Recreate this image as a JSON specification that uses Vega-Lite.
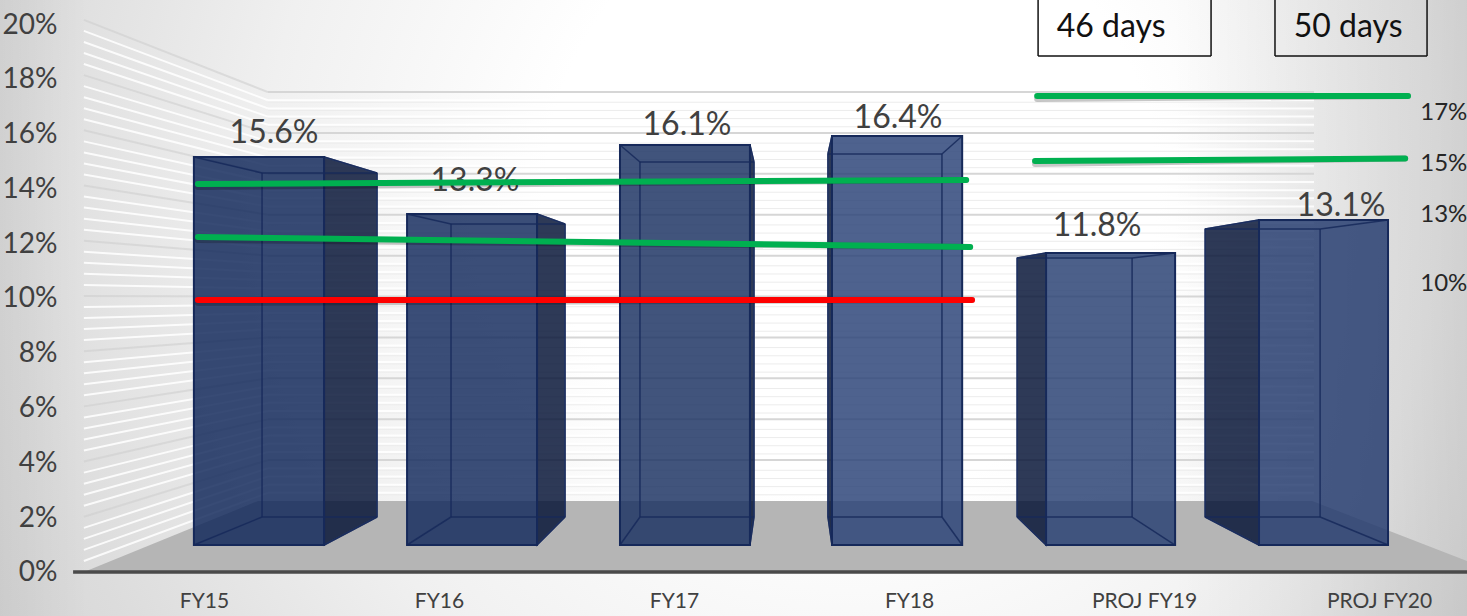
{"$schema":"https://vega.github.io/schema/vega-lite/v6.json","width":1467,"height":616,"padding":0,"autosize":{"type":"none","contains":"padding"},"background":"#ffffff","config":{"view":{"stroke":null},"font":"Lato"},
"datasets":{
"bars":[
{"cat":"FY15","xFL":-0.043,"xFR":0.511,"xBL":0.247,"xBR":0.736,"yFT":15.146,"yBT":14.562,"yFB":0.985,"yBB":2.007},
{"cat":"FY16","xFL":0.864,"xFR":1.417,"xBL":1.051,"xBR":1.536,"yFT":13.066,"yBT":12.701,"yFB":0.985,"yBB":2.007},
{"cat":"FY17","xFL":1.77,"xFR":2.323,"xBL":1.855,"xBR":2.34,"yFT":15.584,"yBT":14.964,"yFB":0.985,"yBB":2.007},
{"cat":"FY18","xFL":2.672,"xFR":3.226,"xBL":2.655,"xBR":3.14,"yFT":15.912,"yBT":15.255,"yFB":0.985,"yBB":2.007},
{"cat":"PROJ FY19","xFL":3.583,"xFR":4.132,"xBL":3.46,"xBR":3.949,"yFT":11.642,"yBT":11.46,"yFB":0.985,"yBB":2.007},
{"cat":"PROJ FY20","xFL":4.489,"xFR":5.038,"xBL":4.26,"xBR":4.749,"yFT":12.847,"yBT":12.518,"yFB":0.985,"yBB":2.007}],
"sides":[
{"cat":"FY15","x":0.511,"top":15.146,"bottom":0.985},{"cat":"FY15","x":0.736,"top":14.562,"bottom":2.007},
{"cat":"FY16","x":1.417,"top":13.066,"bottom":0.985},{"cat":"FY16","x":1.536,"top":12.701,"bottom":2.007},
{"cat":"FY17","x":2.323,"top":15.584,"bottom":0.985},{"cat":"FY17","x":2.34,"top":14.964,"bottom":2.007},
{"cat":"FY18","x":2.655,"top":15.255,"bottom":2.007},{"cat":"FY18","x":2.672,"top":15.912,"bottom":0.985},
{"cat":"PROJ FY19","x":3.46,"top":11.46,"bottom":2.007},{"cat":"PROJ FY19","x":3.583,"top":11.642,"bottom":0.985},
{"cat":"PROJ FY20","x":4.26,"top":12.518,"bottom":2.007},{"cat":"PROJ FY20","x":4.489,"top":12.847,"bottom":0.985}],
"grid":[
{"k":1,"kind":"minor","yL":0.403,"yB":2.89},{"k":2,"kind":"minor","yL":0.806,"yB":3.188},{"k":3,"kind":"minor","yL":1.209,"yB":3.487},{"k":4,"kind":"minor","yL":1.612,"yB":3.785},{"k":5,"kind":"major","yL":2.015,"yB":4.084},
{"k":6,"kind":"minor","yL":2.418,"yB":4.382},{"k":7,"kind":"minor","yL":2.821,"yB":4.681},{"k":8,"kind":"minor","yL":3.224,"yB":4.979},{"k":9,"kind":"minor","yL":3.627,"yB":5.278},{"k":10,"kind":"major","yL":4.03,"yB":5.576},
{"k":11,"kind":"minor","yL":4.433,"yB":5.875},{"k":12,"kind":"minor","yL":4.836,"yB":6.173},{"k":13,"kind":"minor","yL":5.239,"yB":6.472},{"k":14,"kind":"minor","yL":5.642,"yB":6.77},{"k":15,"kind":"major","yL":6.045,"yB":7.069},
{"k":16,"kind":"minor","yL":6.448,"yB":7.367},{"k":17,"kind":"minor","yL":6.851,"yB":7.666},{"k":18,"kind":"minor","yL":7.254,"yB":7.964},{"k":19,"kind":"minor","yL":7.657,"yB":8.263},{"k":20,"kind":"major","yL":8.06,"yB":8.561},
{"k":21,"kind":"minor","yL":8.463,"yB":8.86},{"k":22,"kind":"minor","yL":8.866,"yB":9.158},{"k":23,"kind":"minor","yL":9.269,"yB":9.457},{"k":24,"kind":"minor","yL":9.672,"yB":9.755},{"k":25,"kind":"major","yL":10.075,"yB":10.054},
{"k":26,"kind":"minor","yL":10.478,"yB":10.352},{"k":27,"kind":"minor","yL":10.881,"yB":10.651},{"k":28,"kind":"minor","yL":11.284,"yB":10.949},{"k":29,"kind":"minor","yL":11.687,"yB":11.248},{"k":30,"kind":"major","yL":12.09,"yB":11.546},
{"k":31,"kind":"minor","yL":12.493,"yB":11.845},{"k":32,"kind":"minor","yL":12.896,"yB":12.143},{"k":33,"kind":"minor","yL":13.299,"yB":12.442},{"k":34,"kind":"minor","yL":13.702,"yB":12.74},{"k":35,"kind":"major","yL":14.105,"yB":13.039},
{"k":36,"kind":"minor","yL":14.508,"yB":13.337},{"k":37,"kind":"minor","yL":14.911,"yB":13.636},{"k":38,"kind":"minor","yL":15.314,"yB":13.934},{"k":39,"kind":"minor","yL":15.717,"yB":14.233},{"k":40,"kind":"major","yL":16.12,"yB":14.531},
{"k":41,"kind":"minor","yL":16.523,"yB":14.83},{"k":42,"kind":"minor","yL":16.926,"yB":15.128},{"k":43,"kind":"minor","yL":17.329,"yB":15.427},{"k":44,"kind":"minor","yL":17.732,"yB":15.725},{"k":45,"kind":"major","yL":18.135,"yB":16.024},
{"k":46,"kind":"minor","yL":18.538,"yB":16.322},{"k":47,"kind":"minor","yL":18.941,"yB":16.621},{"k":48,"kind":"minor","yL":19.344,"yB":16.919},{"k":49,"kind":"minor","yL":19.747,"yB":17.218},{"k":50,"kind":"major","yL":20.15,"yB":17.516}],
"trend":[
{"series":"green upper FY15-18","tone":"green","x":-0.026,"x2":3.243,"y":14.161,"y2":14.307},
{"series":"green lower FY15-18","tone":"green","x":-0.026,"x2":3.26,"y":12.226,"y2":11.861},
{"series":"red FY15-18","tone":"red","x":-0.026,"x2":3.268,"y":9.927,"y2":9.927},
{"series":"17%","tone":"green","x":3.545,"x2":5.123,"y":17.372,"y2":17.372},
{"series":"15%","tone":"green","x":3.536,"x2":5.111,"y":15.0,"y2":15.091}],
"boxes":[{"t":"46 days","x0":3.549,"x1":4.285,"yt":20.876,"yb":18.832},{"t":"50 days","x0":4.557,"x1":5.204,"yt":20.876,"yb":18.832}]
},
"layer":[
{"data":{"values":[{"x0":-0.868,"x1":5.374,"y0":-1.606,"y1":20.876}]},"mark":{"type":"rect","color":{"gradient":"radial","x1":0.58,"y1":0.42,"r1":0,"x2":0.58,"y2":0.42,"r2":0.8,"stops":[{"offset":0,"color":"#ffffff"},{"offset":0.26,"color":"#ffffff"},{"offset":0.5,"color":"#f0f0f0"},{"offset":0.72,"color":"#dcdcdc"},{"offset":1,"color":"#cacaca"}]}},
"encoding":{"x":{"field":"x0","type":"quantitative","scale":{"nice":false,"zero":false},"axis":{"title":null,"orient":"bottom","offset":-15,"values":[0,1,2,3,4,5],"labelExpr":"['FY15','FY16','FY17','FY18','PROJ FY19','PROJ FY20'][datum.value]","domain":false,"ticks":false,"grid":false,"labelPadding":0,"labelBaseline":"middle","labelFontSize":21,"labelColor":"#404040","labelOverlap":false,"labelBound":false,"labelFlush":false,"zindex":1}},"x2":{"field":"x1"},
"y":{"field":"y0","type":"quantitative","scale":{"nice":false,"zero":false},"axis":{"title":null,"orient":"left","offset":-57,"values":[0,2,4,6,8,10,12,14,16,18,20],"labelExpr":"datum.value+'%'","domain":false,"ticks":false,"grid":false,"labelPadding":0,"labelOffset":1,"labelFontSize":28,"labelColor":"#404040","labelOverlap":false,"labelBound":false,"labelFlush":false,"zindex":1}},"y2":{"field":"y1"}}},
{"data":{"values":[{"x0":-0.868,"x1":5.374,"y0":-1.606,"y1":20.876}]},"mark":{"type":"rect","color":{"gradient":"linear","x1":0,"y1":0,"x2":1,"y2":0,"stops":[{"offset":0,"color":"rgba(0,0,0,0.05)"},{"offset":0.06,"color":"rgba(0,0,0,0)"},{"offset":0.8,"color":"rgba(0,0,0,0)"},{"offset":1,"color":"rgba(0,0,0,0.12)"}]}},"encoding":{"x":{"field":"x0","type":"quantitative"},"x2":{"field":"x1"},"y":{"field":"y0","type":"quantitative"},"y2":{"field":"y1"}}},
{"data":{"name":"grid"},"transform":[{"filter":"datum.kind==='minor'"}],"mark":{"type":"rule","color":"#ffffff","strokeWidth":2,"opacity":0.85},"encoding":{"x":{"datum":-0.511},"x2":{"datum":0.272},"y":{"field":"yL","type":"quantitative"},"y2":{"field":"yB"}}},
{"data":{"name":"grid"},"transform":[{"filter":"datum.kind==='minor'"}],"mark":{"type":"rule","color":"#ffffff","strokeWidth":2,"opacity":0.85},"encoding":{"x":{"datum":0.272},"x2":{"datum":4.723},"y":{"field":"yB","type":"quantitative"}}},
{"data":{"name":"grid"},"transform":[{"filter":"datum.kind==='minor'"}],"mark":{"type":"rule","color":"#ececec","strokeWidth":1,"yOffset":2},"encoding":{"x":{"datum":0.272},"x2":{"datum":4.723},"y":{"field":"yB","type":"quantitative"}}},
{"data":{"name":"grid"},"transform":[{"filter":"datum.kind==='major'"}],"mark":{"type":"rule","color":"#cfcfcf","strokeWidth":2,"opacity":0.6},"encoding":{"x":{"datum":-0.511},"x2":{"datum":0.272},"y":{"field":"yL","type":"quantitative"},"y2":{"field":"yB"}}},
{"data":{"name":"grid"},"transform":[{"filter":"datum.kind==='major'"}],"mark":{"type":"rule","color":"#d6d6d6","strokeWidth":2},"encoding":{"x":{"datum":0.272},"x2":{"datum":4.723},"y":{"field":"yB","type":"quantitative"}}},
{"data":{"values":[{"x":-0.511,"top":0,"bottom":0},{"x":0.23,"top":2.591,"bottom":0},{"x":4.715,"top":2.591,"bottom":0},{"x":5.374,"top":0.401,"bottom":0}]},"mark":{"type":"area","color":"#b5b5b5","opacity":1},"encoding":{"x":{"field":"x","type":"quantitative"},"y":{"field":"top","type":"quantitative"},"y2":{"field":"bottom"}}},
{"data":{"values":[{"x":-0.557,"x2":5.374,"y":0}]},"mark":{"type":"rule","color":"#4a4a4a","strokeWidth":3.5},"encoding":{"x":{"field":"x","type":"quantitative"},"x2":{"field":"x2"},"y":{"field":"y","type":"quantitative"}}},
{"data":{"name":"sides"},"mark":{"type":"area","color":"#051336","opacity":0.83,"stroke":"#16295a","strokeWidth":1.5},"encoding":{"x":{"field":"x","type":"quantitative"},"y":{"field":"top","type":"quantitative"},"y2":{"field":"bottom"},"detail":{"field":"cat"}}},
{"data":{"name":"bars"},"mark":{"type":"rect","fillOpacity":0.83,"stroke":"#16295a","strokeWidth":2},"encoding":{"x":{"field":"xFL","type":"quantitative"},"x2":{"field":"xFR"},"y":{"field":"yFT","type":"quantitative"},"y2":{"field":"yFB"},"fill":{"field":"cat","type":"nominal","legend":null,"scale":{"domain":["FY15","FY16","FY17","FY18","PROJ FY19","PROJ FY20"],"range":["#102759","#132a5d","#1a3162","#2a4277","#284072","#233a6e"]}}}},
{"data":{"name":"bars"},"mark":{"type":"rule","color":"#16295a","strokeWidth":1.5,"opacity":0.85},"encoding":{"x":{"field":"xBL","type":"quantitative"},"y":{"field":"yBT","type":"quantitative"},"y2":{"field":"yBB"}}},
{"data":{"name":"bars"},"mark":{"type":"rule","color":"#16295a","strokeWidth":1.5,"opacity":0.85},"encoding":{"x":{"field":"xBR","type":"quantitative"},"y":{"field":"yBT","type":"quantitative"},"y2":{"field":"yBB"}}},
{"data":{"name":"bars"},"mark":{"type":"rule","color":"#16295a","strokeWidth":1.5,"opacity":0.85},"encoding":{"x":{"field":"xBL","type":"quantitative"},"x2":{"field":"xBR"},"y":{"field":"yBT","type":"quantitative"}}},
{"data":{"name":"bars"},"mark":{"type":"rule","color":"#16295a","strokeWidth":1.5,"opacity":0.85},"encoding":{"x":{"field":"xBL","type":"quantitative"},"x2":{"field":"xBR"},"y":{"field":"yBB","type":"quantitative"}}},
{"data":{"name":"bars"},"mark":{"type":"rule","color":"#16295a","strokeWidth":1.5,"opacity":0.85},"encoding":{"x":{"field":"xFL","type":"quantitative"},"x2":{"field":"xBL"},"y":{"field":"yFT","type":"quantitative"},"y2":{"field":"yBT"}}},
{"data":{"name":"bars"},"mark":{"type":"rule","color":"#16295a","strokeWidth":1.5,"opacity":0.85},"encoding":{"x":{"field":"xFR","type":"quantitative"},"x2":{"field":"xBR"},"y":{"field":"yFT","type":"quantitative"},"y2":{"field":"yBT"}}},
{"data":{"name":"bars"},"mark":{"type":"rule","color":"#16295a","strokeWidth":1.5,"opacity":0.85},"encoding":{"x":{"field":"xFL","type":"quantitative"},"x2":{"field":"xBL"},"y":{"field":"yFB","type":"quantitative"},"y2":{"field":"yBB"}}},
{"data":{"name":"bars"},"mark":{"type":"rule","color":"#16295a","strokeWidth":1.5,"opacity":0.85},"encoding":{"x":{"field":"xFR","type":"quantitative"},"x2":{"field":"xBR"},"y":{"field":"yFB","type":"quantitative"},"y2":{"field":"yBB"}}},
{"data":{"values":[{"t":"15.6%","x":0.298,"y":16.095},{"t":"13.3%","x":1.153,"y":14.343},{"t":"16.1%","x":2.055,"y":16.387},{"t":"16.4%","x":2.953,"y":16.642},{"t":"11.8%","x":3.8,"y":12.701},{"t":"13.1%","x":4.838,"y":13.431}]},"mark":{"type":"text","fontSize":32,"dy":2,"color":"#404040","align":"center","baseline":"middle"},"encoding":{"x":{"field":"x","type":"quantitative"},"y":{"field":"y","type":"quantitative"},"text":{"field":"t"}}},
{"data":{"name":"trend"},"mark":{"type":"rule","color":"#000000","opacity":0.22,"strokeWidth":6,"strokeCap":"round","yOffset":3},"encoding":{"x":{"field":"x","type":"quantitative"},"x2":{"field":"x2"},"y":{"field":"y","type":"quantitative"},"y2":{"field":"y2"}}},
{"data":{"name":"trend"},"transform":[{"filter":"datum.tone==='green'"}],"mark":{"type":"rule","color":"#00b050","strokeWidth":6,"strokeCap":"round"},"encoding":{"x":{"field":"x","type":"quantitative"},"x2":{"field":"x2"},"y":{"field":"y","type":"quantitative"},"y2":{"field":"y2"}}},
{"data":{"name":"trend"},"transform":[{"filter":"datum.tone==='red'"}],"mark":{"type":"rule","color":"#ff0000","strokeWidth":6,"strokeCap":"round"},"encoding":{"x":{"field":"x","type":"quantitative"},"x2":{"field":"x2"},"y":{"field":"y","type":"quantitative"},"y2":{"field":"y2"}}},
{"data":{"values":[{"t":"17%","x":5.175,"y":16.788},{"t":"15%","x":5.175,"y":14.927},{"t":"13%","x":5.175,"y":13.066},{"t":"10%","x":5.175,"y":10.547}]},"mark":{"type":"text","fontSize":24,"dy":1,"color":"#262626","align":"left","baseline":"middle"},"encoding":{"x":{"field":"x","type":"quantitative"},"y":{"field":"y","type":"quantitative"},"text":{"field":"t"}}},
{"data":{"name":"boxes"},"mark":{"type":"rule","color":"#111111","strokeWidth":1.5},"encoding":{"x":{"field":"x0","type":"quantitative"},"y":{"field":"yt","type":"quantitative"},"y2":{"field":"yb"}}},
{"data":{"name":"boxes"},"mark":{"type":"rule","color":"#111111","strokeWidth":1.5},"encoding":{"x":{"field":"x1","type":"quantitative"},"y":{"field":"yt","type":"quantitative"},"y2":{"field":"yb"}}},
{"data":{"name":"boxes"},"mark":{"type":"rule","color":"#111111","strokeWidth":1.5},"encoding":{"x":{"field":"x0","type":"quantitative"},"x2":{"field":"x1"},"y":{"field":"yb","type":"quantitative"}}},
{"data":{"values":[{"t":"46 days","xc":3.86,"y":19.927},{"t":"50 days","xc":4.868,"y":19.927}]},"mark":{"type":"text","fontSize":32,"dy":1,"color":"#111111","align":"center","baseline":"middle"},"encoding":{"x":{"field":"xc","type":"quantitative"},"y":{"field":"y","type":"quantitative"},"text":{"field":"t"}}}
]}
